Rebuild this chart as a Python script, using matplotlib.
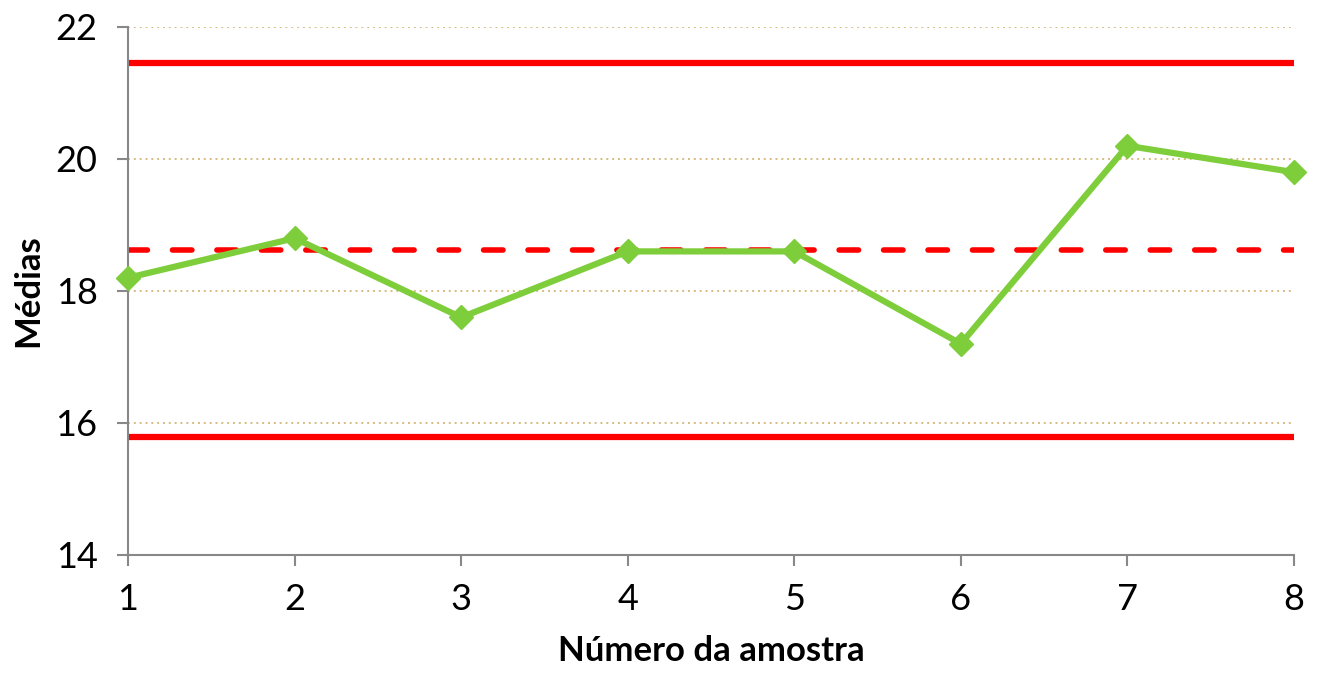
import matplotlib.pyplot as plt

amostras = [1, 2, 3, 4, 5, 6, 7, 8]
medias = [18.2, 18.8, 17.6, 18.6, 18.6, 17.2, 20.2, 19.8]
lsc = 21.455
lc = 18.625
lic = 15.795

plt.rcParams['font.family'] = ['Lato', 'DejaVu Sans']

fig = plt.figure(figsize=(13.27, 6.91), dpi=100)
ax = fig.add_axes([128 / 1327, 1 - 555 / 691, (1294 - 128) / 1327, (555 - 27) / 691])

ax.axhline(lsc, color='#FF0000', lw=4.5, zorder=2)
ax.axhline(lic, color='#FF0000', lw=4.5, zorder=2)
ax.axhline(lc, color='#FF0000', lw=4, ls=(0, (3.5, 4.5)), dash_capstyle='round', zorder=2)
ax.plot(amostras, medias, color='#7ECD3A', lw=4.5, marker='D', markersize=12, zorder=3, clip_on=False)

ax.set_xlim(1, 8)
ax.set_ylim(14, 22)
ax.set_xticks(amostras)
ax.set_yticks([14, 16, 18, 20, 22])
ax.grid(axis='y', color='#D6BC80', ls=(0, (1, 2)), lw=1.4)
ax.set_axisbelow(True)

for s in ['top', 'right']:
    ax.spines[s].set_visible(False)
for s in ['left', 'bottom']:
    ax.spines[s].set_color('#888888')
    ax.spines[s].set_linewidth(1.5)
ax.tick_params(axis='both', colors='#888888', width=1.5, length=8, labelcolor='black', labelsize=26)
ax.tick_params(axis='x', pad=12)
ax.tick_params(axis='y', pad=14)

ax.set_xlabel('Número da amostra', fontsize=25, fontweight='bold', labelpad=14)
ax.set_ylabel('Médias', fontsize=25, fontweight='bold', labelpad=8)

fig.savefig('out.png', dpi=100)
